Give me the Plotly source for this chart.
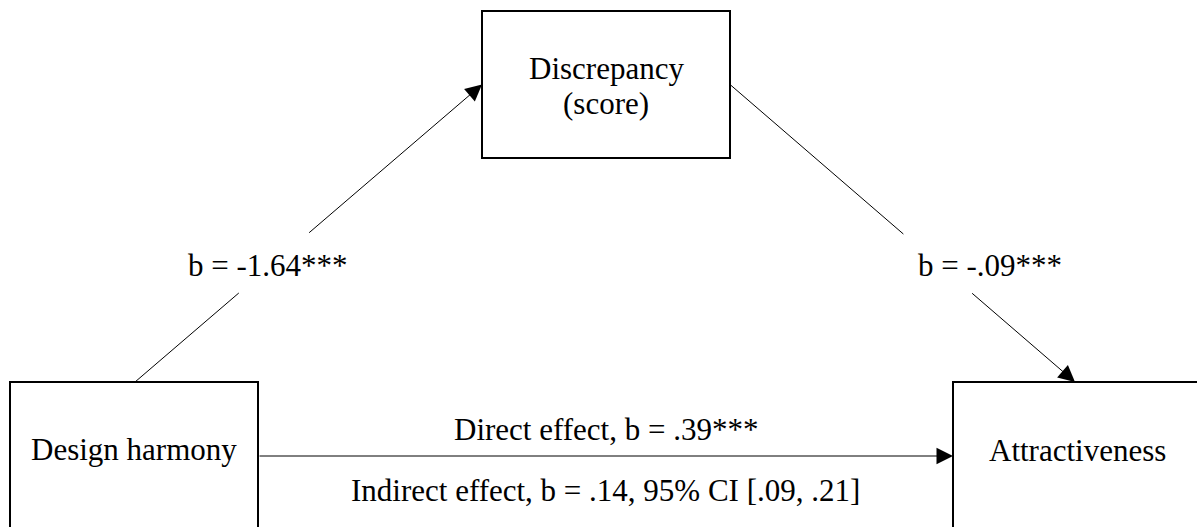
import plotly.graph_objects as go

# diagram content
node_labels = ["Design harmony", "Discrepancy<br>(score)", "Attractiveness"]
path_a_label = "b = -1.64***"
path_b_label = "b = -.09***"
direct_label = "Direct effect, b = .39***"
indirect_label = "Indirect effect, b = .14, 95% CI [.09, .21]"

W, H = 1197, 527
FONT = dict(family="Liberation Serif, Times New Roman, serif", size=31, color="black")

# layout of the boxes (pixel space, y grows downward); the bottom two run off the page
BOX_W, BOX_H = 248, 147
boxes = [
    dict(x0=10, y0=382, text_y=449, closed=False),   # X
    dict(x0=482, y0=11, text_y=86, closed=True),     # M
    dict(x0=953, y0=382, text_y=450, closed=False),  # Y
]


def point_at_y(p0, p1, y):
    t = (y - p0[1]) / (p1[1] - p0[1])
    return (p0[0] + t * (p1[0] - p0[0]), y)


fig = go.Figure()
shapes = []
annotations = []

for box, label in zip(boxes, node_labels):
    x0, y0 = box["x0"], box["y0"]
    x1, y1 = x0 + BOX_W, y0 + BOX_H
    if box["closed"]:
        path = f"M{x0},{y0} L{x1},{y0} L{x1},{y1} L{x0},{y1} Z"
    else:
        x1 = min(x1, W + 20)
        path = f"M{x0},{H + 20} L{x0},{y0} L{x1},{y0}"
        if x1 < W:
            path += f" L{x1},{H + 20}"
    shapes.append(dict(type="path", xref="x", yref="y", path=path,
                       line=dict(color="black", width=2)))
    lines = label.split("<br>")
    spacing = 35
    start = box["text_y"] - spacing * (len(lines) - 1) / 2
    for i, ln in enumerate(lines):
        annotations.append(dict(x=x0 + BOX_W / 2, y=start + i * spacing,
                                xref="x", yref="y", text=ln, showarrow=False,
                                xanchor="center", yanchor="middle", font=FONT))


def arrow(tail, head):
    annotations.append(dict(x=head[0], y=head[1], ax=tail[0], ay=tail[1],
                            xref="x", yref="y", axref="x", ayref="y",
                            text="", showarrow=True, arrowhead=2,
                            arrowsize=3.3, arrowwidth=1, arrowcolor="black",
                            standoff=0, startstandoff=0))


def segment(p0, p1):
    shapes.append(dict(type="line", xref="x", yref="y",
                       x0=p0[0], y0=p0[1], x1=p1[0], y1=p1[1],
                       line=dict(color="black", width=1)))


bx, bm, by = boxes
# path a: X top -> M left
a_start = (bx["x0"] + BOX_W / 2 + 1, bx["y0"])
a_end = (bm["x0"], bm["y0"] + BOX_H / 2)
segment(a_start, point_at_y(a_start, a_end, 293))
arrow(point_at_y(a_start, a_end, 234), a_end)
annotations.append(dict(x=268, y=265, xref="x", yref="y", text=path_a_label,
                        showarrow=False, xanchor="center", yanchor="middle", font=FONT))

# path b: M right -> Y top
b_start = (bm["x0"] + BOX_W, bm["y0"] + BOX_H / 2)
b_end = (by["x0"] + BOX_W / 2 - 2, by["y0"])
segment(b_start, point_at_y(b_start, b_end, 234))
arrow(point_at_y(b_start, b_end, 292), b_end)
annotations.append(dict(x=990, y=265, xref="x", yref="y", text=path_b_label,
                        showarrow=False, xanchor="center", yanchor="middle", font=FONT))

# path c': X right -> Y left
c_y = 456
arrow((bx["x0"] + BOX_W, c_y), (by["x0"], c_y))
mid_x = (bx["x0"] + BOX_W + by["x0"]) / 2
annotations.append(dict(x=mid_x, y=429, xref="x", yref="y", text=direct_label,
                        showarrow=False, xanchor="center", yanchor="middle", font=FONT))
annotations.append(dict(x=mid_x, y=490, xref="x", yref="y", text=indirect_label,
                        showarrow=False, xanchor="center", yanchor="middle", font=FONT))

fig.update_layout(
    width=W, height=H,
    margin=dict(l=0, r=0, t=0, b=0),
    plot_bgcolor="white", paper_bgcolor="white",
    showlegend=False,
    shapes=shapes, annotations=annotations,
    xaxis=dict(range=[0, W], visible=False, fixedrange=True),
    yaxis=dict(range=[H, 0], visible=False, fixedrange=True),
)

# page body has a default 8px margin; drop it so the figure fills the window
fig.write_html("out.html", config={"displayModeBar": False},
               post_script="document.body.style.margin='0';")
